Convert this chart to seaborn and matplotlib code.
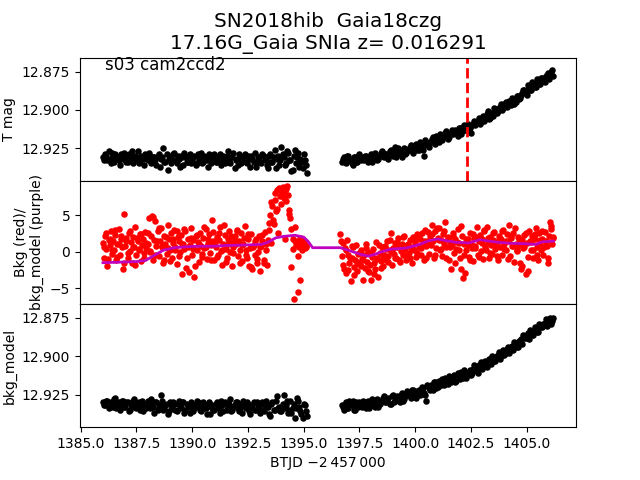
import numpy as np
import pandas as pd
import seaborn as sns
import matplotlib
matplotlib.use("Agg")
import matplotlib.pyplot as plt

# observation grid (BTJD - 2457000): segment starts and cadence, days
cadence = 0.1
orbit1_start = 1386.0
orbit2_start = 1396.7
peak_time = 1402.34

# T mag, orbit 1 / orbit 2 (two interleaved sample sets, offset by half a cadence)
tmag_orbit1 = [
    12.931, 12.929, 12.933, 12.932, 12.928, 12.934, 12.930, 12.933, 12.929, 12.932,
    12.931, 12.934, 12.930, 12.927, 12.933, 12.931, 12.935, 12.930, 12.932, 12.929,
    12.933, 12.930, 12.934, 12.931, 12.936, 12.929, 12.932, 12.925, 12.934, 12.939,
    12.931, 12.933, 12.928, 12.935, 12.932, 12.930, 12.936, 12.931, 12.934, 12.929,
    12.933, 12.930, 12.935, 12.932, 12.928, 12.934, 12.931, 12.937, 12.930, 12.933,
    12.929, 12.934, 12.932, 12.936, 12.930, 12.933, 12.927, 12.935, 12.931, 12.938,
    12.932, 12.929, 12.935, 12.931, 12.934, 12.930, 12.937, 12.932, 12.928, 12.934,
    12.931, 12.935, 12.930, 12.933, 12.938, 12.929, 12.934, 12.926, 12.932, 12.936,
    12.924, 12.931, 12.935, 12.928, 12.933, 12.939, 12.926, 12.931, 12.937, 12.934,
    12.929, 12.936,
]
tmag_orbit1_b = [
    12.933, 12.930, 12.927, 12.935, 12.931, 12.929, 12.932, 12.936, 12.930, 12.928,
    12.934, 12.929, 12.932, 12.935, 12.930, 12.927, 12.933, 12.931, 12.936, 12.930,
    12.928, 12.935, 12.931, 12.933, 12.930, 12.937, 12.931, 12.934, 12.929, 12.932,
    12.935, 12.929, 12.933, 12.930, 12.937, 12.931, 12.928, 12.934, 12.930, 12.935,
    12.931, 12.936, 12.929, 12.933, 12.935, 12.930, 12.933, 12.929, 12.935, 12.931,
    12.934, 12.931, 12.929, 12.933, 12.935, 12.930, 12.934, 12.931, 12.928, 12.933,
    12.936, 12.930, 12.933, 12.929, 12.935, 12.932, 12.930, 12.934, 12.937, 12.931,
    12.934, 12.929, 12.932, 12.936, 12.930, 12.934, 12.931, 12.938, 12.930, 12.933,
    12.929, 12.936, 12.927, 12.933, 12.940, 12.930, 12.935, 12.928, 12.932, 12.938,
    12.933, 12.941,
]
tmag_orbit2 = [
    12.934, 12.931, 12.935, 12.930, 12.933, 12.936, 12.931, 12.934, 12.929, 12.932,
    12.933, 12.930, 12.934, 12.929, 12.932, 12.928, 12.933, 12.930, 12.927, 12.931,
    12.929, 12.932, 12.926, 12.930, 12.924, 12.929, 12.927, 12.931, 12.925, 12.928,
    12.926, 12.923, 12.928, 12.924, 12.926, 12.921, 12.925, 12.930, 12.922, 12.924,
    12.921, 12.918, 12.922, 12.919, 12.916, 12.920, 12.917, 12.914, 12.918, 12.915,
    12.916, 12.913, 12.917, 12.912, 12.914, 12.910, 12.913, 12.911, 12.915, 12.909,
    12.910, 12.907, 12.909, 12.905, 12.907, 12.903, 12.906, 12.902, 12.904, 12.900,
    12.901, 12.898, 12.900, 12.896, 12.898, 12.894, 12.897, 12.893, 12.895, 12.891,
    12.892, 12.889, 12.887, 12.890, 12.885, 12.887, 12.883, 12.885, 12.881, 12.883,
    12.879, 12.882, 12.877, 12.880, 12.875, 12.878,
]
tmag_orbit2_b = [
    12.932, 12.934, 12.930, 12.933, 12.935, 12.931, 12.934, 12.930, 12.933, 12.931,
    12.930, 12.933, 12.931, 12.934, 12.929, 12.931, 12.932, 12.928, 12.930, 12.929,
    12.931, 12.927, 12.929, 12.926, 12.931, 12.925, 12.928, 12.926, 12.929, 12.926,
    12.924, 12.927, 12.925, 12.922, 12.926, 12.923, 12.926, 12.920, 12.923, 12.921,
    12.919, 12.920, 12.917, 12.921, 12.918, 12.917, 12.915, 12.919, 12.916, 12.913,
    12.914, 12.915, 12.912, 12.916, 12.911, 12.913, 12.909, 12.912, 12.910, 12.907,
    12.908, 12.905, 12.908, 12.904, 12.906, 12.901, 12.905, 12.903, 12.899, 12.902,
    12.899, 12.896, 12.899, 12.895, 12.897, 12.895, 12.892, 12.896, 12.891, 12.893,
    12.890, 12.887, 12.889, 12.884, 12.887, 12.882, 12.885, 12.880, 12.883, 12.879,
    12.880, 12.878, 12.876, 12.878, 12.874,
]

# background flux (red points), four interleaved sample sets per orbit
bkg_orbit1 = [
    1.2, -0.8, 2.1, 0.4, -1.9, 1.6, 0.9, 2.8, -0.3, 1.4,
    0.2, 2.3, -1.2, 1.0, 3.1, -0.5, 1.7, 0.6, -2.4, 5.1,
    0.8, 1.9, -0.9, 2.6, 0.1, 1.3, -1.6, 2.0, 0.7, 3.4,
    -0.4, 1.5, 0.3, 2.4, -1.3, 0.9, 1.8, -0.2, 2.7, 0.5,
    1.1, 4.6, 0.0, 2.2, 4.9, -1.1, 1.6, 4.2, 0.8, 2.9,
    -0.6, 1.4, 3.3, 0.6, -1.5, 2.1, 1.0, -0.3, 3.6, 1.7,
    0.3, 2.5, -0.8, 1.2, 3.0, 0.7, -1.7, 2.0, 1.5, -0.1,
    2.3, -3.1, 1.0, 0.4, 2.8, -0.9, 1.8, -2.8, 0.9, 3.2,
    -0.5, 1.6, -3.5, 2.1, 0.2, 1.3, -1.4, 2.6, 0.8, -0.7,
    1.9, 0.5, 3.1, -1.0, 1.2, 2.4, -0.2, 0.9, 4.4, 1.5,
    -1.2, 0.7, 2.0, -0.4, 1.6, 3.4, 0.1, -1.8, 1.1, 2.3,
    0.4, -0.9, 1.8, 2.9, -0.1, 1.3, -2.0, 0.6, 2.2, 1.0,
    3.0, -0.6, 1.5, 0.3, 2.6, -1.3, 1.1, 3.5, 0.2, -0.8,
    1.7, -1.9, 0.5, 2.4, -2.3, 0.9, -0.4, 1.8, -1.6, 0.0,
    2.1, -2.6, 0.8, 1.4, -1.1, 2.7, 0.3, -1.8, 1.6, 3.9,
    5.0, 1.2, 6.2, 3.8, 7.1, 5.6, 8.4, 2.6, 8.7, 7.6,
    6.5, 8.9, 7.4, 1.8, 8.6, 9.0, 7.7, 5.7, 4.6, -2.1,
    1.8, -6.4, 3.4, 0.9, 1.3, -5.5, 0.6, -3.9, 1.1, 0.9,
    1.4, 0.5, 0.8,
]
bkg_orbit1_b = [
    0.6, 2.5, -1.0, 1.8, 0.3, 3.0, -0.7, 1.1, 2.2, -1.5,
    1.4, -0.2, 2.9, 0.7, -1.8, 1.9, 0.4, 2.4, -0.9, 1.2,
    2.6, 0.1, 4.7, -0.5, 1.5, 3.2, 0.8, -1.2, 2.0, 0.5,
    -1.3, 1.7, 0.2, 2.9, -0.6, 1.1, 3.1, -2.2, 0.7, 1.9,
    0.4, -1.9, 2.3, 1.0, -0.3, 3.4, 0.6, 1.8, -1.1, 2.7,
    1.3, -0.7, 2.5, 0.2, 3.7, -1.4, 1.0, 2.1, -0.2, 1.6,
    2.8, -1.6, 0.9, 1.9, -0.5, 2.4, -2.1, 0.6, 1.4, -1.0,
    0.7, 2.3, -1.5, 1.1, 3.0, 6.8, 4.3, 8.0, 5.9, 8.5,
    7.9, 8.2, 6.9, 5.2, 3.1, 0.4, 1.5, -0.6, 1.9, 0.3,
    1.2, 0.7,
]
bkg_orbit2 = [
    2.4, -0.6, 1.2, -2.3, 0.5, -2.9, 1.6, -0.4, -1.5, -4.0,
    -0.8, 0.6, -2.1, -1.2, 0.9, -2.6, -0.3, -1.7, 0.2, -1.0,
    -3.9, -0.5, -2.2, 1.0, -1.4, -0.1, -2.8, -3.8, -0.7, 0.4,
    -1.6, -2.4, 1.3, -0.9, -3.4, -0.2, -1.3, 0.7, -2.0, -0.4,
    0.8, -1.1, 1.5, -0.6, 0.3, 2.5, -1.8, 0.5, -0.3, 1.2,
    -0.9, 0.6, 1.9, -1.4, 0.1, 1.1, -0.5, 2.2, 0.4, -1.2,
    0.9, -0.2, 1.6, 0.5, -1.6, 2.0, 0.2, 1.3, -0.7, 2.4,
    0.6, 1.8, -0.4, 2.6, 1.1, -1.2, 3.0, 0.8, 1.5, -0.3,
    2.1, 0.9, 3.7, 1.4, -0.8, 2.8, 0.5, 1.9, 3.2, 0.2,
    1.6, -0.6, 2.4, 1.0, 4.0, 0.7, 2.0, -1.1, 1.3, -2.3,
    0.9, 2.5, -0.2, 1.7, 0.4, 3.1, 1.2, -0.9, -2.3, 2.2,
    -3.6, 1.0, -2.9, 0.3, 1.8, -0.7, 2.6, 1.1, 0.5, -1.3,
    1.9, 0.8, 3.4, -0.5, 1.4, 2.3, 0.1, 1.7, -1.0, 2.8,
    0.6, 3.4, 1.2, -0.8, 2.0, 0.9, -0.3, 1.6, 2.7, 0.4,
    1.3, -1.2, 2.2, 0.7, 1.8, -0.4, 3.0, 1.0, 0.3, 2.4,
    1.5, 3.7, -0.6, 1.9, 0.8, 2.6, -1.4, 1.1, 0.2, 2.0,
    0.9, -1.5, -2.3, 1.6, 0.5, 2.3, -3.0, 1.2, -0.7, 2.9,
    1.4, 0.3, 2.1, -0.9, 1.7, 3.3, 0.6, -1.1, 2.5, 1.0,
    0.2, 1.8, -0.5, 2.7, 1.3, 0.8, -1.6, 2.2, 4.0, 3.5,
    1.1, 2.0,
]
bkg_orbit2_b = [
    1.5, -1.8, 0.3, -2.5, -0.9, 0.8, -3.2, -1.4, -0.2, -2.0,
    -1.1, 0.5, -2.7, -1.8, -0.3, -3.1, -1.0, 0.9, -2.2, -0.6,
    0.4, -1.4, 1.6, 0.0, -0.8, 1.3, -1.1, 0.7, 2.0, -0.4,
    1.1, -0.9, 0.6, 1.9, -0.2, 2.3, 0.5, 1.4, -0.8, 2.7,
    1.0, 2.4, -0.5, 3.3, 1.6, 0.4, 2.9, -0.9, 1.8, 0.6,
    2.2, -1.6, 1.3, 0.2, 3.5, -0.4, 1.7, 0.9, -1.2, 2.4,
    0.5, 2.0, -0.7, 1.2, 3.0, 0.3, 1.9, -0.2, 2.5, 1.1,
    -0.6, 1.7, 2.8, 0.4, 1.4, -1.0, 2.2, 0.8, 3.2, 0.1,
    1.8, -1.9, 0.6, 2.6, -2.6, 1.3, 0.2, 2.4, -0.4, 1.6,
    2.9, 0.7, 1.5, -0.8, 3.1, 1.9,
]

# smoothed background model (purple line)
model_time = [
    1386.0, 1386.5, 1387.0, 1387.5, 1387.9, 1388.3, 1388.7, 1389.2, 1389.6, 1390.2,
    1390.9, 1391.5, 1392.1, 1392.7, 1393.1, 1393.4, 1393.75, 1394.1, 1394.6, 1395.0,
    1395.2, 1395.4, 1396.0, 1396.65, 1396.9, 1397.3, 1397.6, 1397.9, 1398.2, 1398.5,
    1398.9, 1399.6, 1400.2, 1400.6, 1401.0, 1401.4, 1401.8, 1402.4, 1402.9, 1403.3,
    1403.7, 1404.3, 1404.9, 1405.4, 1405.7, 1406.2,
]
model_bkg = [
    -1.5, -1.45, -1.4, -1.35, -1.2, -0.5, 0.2, 0.55, 0.65, 0.75,
    0.75, 0.85, 0.9, 0.95, 1.0, 1.3, 1.9, 2.1, 2.25, 2.0,
    1.4, 0.55, 0.55, 0.55, 0.3, -0.1, -0.4, -0.6, -0.35, 0.0,
    0.35, 0.5, 1.0, 1.5, 1.75, 1.5, 1.3, 1.2, 1.65, 1.45,
    1.3, 1.15, 1.1, 1.0, 1.35, 1.45,
]

# T mag after bkg_model correction
corr_orbit1 = [
    12.930, 12.932, 12.929, 12.933, 12.931, 12.928, 12.934, 12.930, 12.932, 12.929,
    12.933, 12.930, 12.935, 12.931, 12.928, 12.934, 12.930, 12.932, 12.936, 12.931,
    12.929, 12.934, 12.931, 12.937, 12.930, 12.933, 12.925, 12.935, 12.932, 12.938,
    12.930, 12.934, 12.931, 12.936, 12.929, 12.933, 12.930, 12.935, 12.932, 12.937,
    12.931, 12.934, 12.929, 12.933, 12.936, 12.930, 12.934, 12.931, 12.938, 12.932,
    12.935, 12.930, 12.933, 12.929, 12.936, 12.931, 12.934, 12.928, 12.935, 12.932,
    12.930, 12.936, 12.933, 12.929, 12.934, 12.931, 12.938, 12.932, 12.935, 12.930,
    12.934, 12.931, 12.936, 12.929, 12.933, 12.939, 12.930, 12.935, 12.926, 12.933,
    12.936, 12.925, 12.932, 12.937, 12.929, 12.934, 12.940, 12.927, 12.933, 12.938,
    12.931, 12.936,
]
corr_orbit1_b = [
    12.932, 12.929, 12.934, 12.930, 12.933, 12.927, 12.931, 12.935, 12.929, 12.933,
    12.930, 12.936, 12.932, 12.929, 12.933, 12.931, 12.935, 12.929, 12.932, 12.934,
    12.931, 12.928, 12.933, 12.930, 12.935, 12.932, 12.929, 12.934, 12.931, 12.936,
    12.932, 12.930, 12.935, 12.931, 12.934, 12.930, 12.937, 12.931, 12.933, 12.930,
    12.936, 12.932, 12.930, 12.935, 12.931, 12.934, 12.938, 12.930, 12.933, 12.935,
    12.931, 12.934, 12.937, 12.932, 12.930, 12.935, 12.931, 12.936, 12.933, 12.930,
    12.934, 12.931, 12.937, 12.932, 12.930, 12.936, 12.933, 12.930, 12.935, 12.932,
    12.937, 12.930, 12.934, 12.932, 12.938, 12.931, 12.935, 12.929, 12.934, 12.936,
    12.931, 12.934, 12.929, 12.935, 12.937, 12.931, 12.934, 12.929, 12.936, 12.940,
    12.932, 12.939,
]
corr_orbit2 = [
    12.932, 12.935, 12.930, 12.934, 12.931, 12.929, 12.935, 12.932, 12.930, 12.933,
    12.931, 12.934, 12.929, 12.932, 12.930, 12.933, 12.928, 12.931, 12.929, 12.926,
    12.930, 12.927, 12.931, 12.925, 12.929, 12.926, 12.930, 12.924, 12.928, 12.925,
    12.924, 12.927, 12.922, 12.926, 12.923, 12.925, 12.920, 12.924, 12.929, 12.921,
    12.919, 12.922, 12.917, 12.920, 12.918, 12.915, 12.919, 12.916, 12.913, 12.917,
    12.914, 12.917, 12.911, 12.915, 12.912, 12.909, 12.914, 12.910, 12.912, 12.908,
    12.908, 12.911, 12.906, 12.908, 12.904, 12.907, 12.902, 12.905, 12.901, 12.903,
    12.899, 12.902, 12.897, 12.899, 12.895, 12.898, 12.894, 12.896, 12.892, 12.894,
    12.890, 12.892, 12.888, 12.886, 12.889, 12.884, 12.886, 12.882, 12.884, 12.880,
    12.881, 12.878, 12.880, 12.876, 12.879, 12.875,
]
corr_orbit2_b = [
    12.933, 12.931, 12.934, 12.929, 12.932, 12.935, 12.930, 12.933, 12.931, 12.929,
    12.932, 12.930, 12.934, 12.928, 12.931, 12.929, 12.933, 12.929, 12.927, 12.930,
    12.928, 12.931, 12.926, 12.930, 12.927, 12.928, 12.925, 12.929, 12.926, 12.923,
    12.926, 12.922, 12.925, 12.927, 12.922, 12.924, 12.921, 12.925, 12.919, 12.922,
    12.920, 12.917, 12.921, 12.916, 12.919, 12.917, 12.914, 12.918, 12.915, 12.916,
    12.912, 12.916, 12.913, 12.910, 12.914, 12.911, 12.912, 12.909, 12.911, 12.906,
    12.909, 12.906, 12.904, 12.907, 12.903, 12.905, 12.902, 12.900, 12.903, 12.900,
    12.897, 12.900, 12.896, 12.898, 12.894, 12.896, 12.893, 12.891, 12.894, 12.890,
    12.889, 12.886, 12.888, 12.885, 12.883, 12.886, 12.881, 12.884, 12.879, 12.881,
    12.879, 12.876, 12.878, 12.875, 12.877,
]


def sample_times(start, step, values):
    return np.round(start + step * np.arange(len(values)), 3)


t_phot = np.concatenate([
    sample_times(orbit1_start, cadence, tmag_orbit1),
    sample_times(orbit1_start + cadence / 2, cadence, tmag_orbit1_b),
    sample_times(orbit2_start, cadence, tmag_orbit2),
    sample_times(orbit2_start + cadence / 2, cadence, tmag_orbit2_b),
])
phot = pd.DataFrame({
    "t": t_phot,
    "mag": tmag_orbit1 + tmag_orbit1_b + tmag_orbit2 + tmag_orbit2_b,
    "corr": corr_orbit1 + corr_orbit1_b + corr_orbit2 + corr_orbit2_b,
})

t_bkg = np.concatenate([
    sample_times(orbit1_start, cadence / 2, bkg_orbit1),
    sample_times(orbit1_start + cadence / 4, cadence, bkg_orbit1_b),
    sample_times(orbit2_start - cadence / 2, cadence / 2, bkg_orbit2),
    sample_times(orbit2_start - cadence / 4, cadence, bkg_orbit2_b),
])
bkg = pd.DataFrame({"t": t_bkg,
                    "bkg": bkg_orbit1 + bkg_orbit1_b + bkg_orbit2 + bkg_orbit2_b})
model = pd.DataFrame({"t": model_time, "bkg": model_bkg})

fig, (ax1, ax2, ax3) = plt.subplots(3, 1, sharex=True, figsize=(6.4, 4.8), dpi=100)
fig.subplots_adjust(hspace=0)

dot = dict(s=22, linewidth=0)

sns.scatterplot(data=phot, x="t", y="mag", color="k", ax=ax1, **dot)
ax1.axvline(peak_time, color="r", ls="--", lw=2)
ax1.set_ylim(12.9463, 12.8659)
ax1.set_xlabel("")
ax1.set_ylabel("T mag")
ax1.text(0.05, 0.9, "s03 cam2ccd2", transform=ax1.transAxes, fontsize=12)
ax1.set_title("SN2018hib  Gaia18czg\n17.16G_Gaia SNIa z= 0.016291", fontsize=14.4)

sns.scatterplot(data=bkg, x="t", y="bkg", color="r", ax=ax2, **dot)
sns.lineplot(data=model, x="t", y="bkg", color="m", lw=2, errorbar=None, ax=ax2)
ax2.set_ylim(-7.15, 9.7)
ax2.set_xlabel("")
ax2.set_ylabel("Bkg (red)/\nbkg_model (purple)")

sns.scatterplot(data=phot, x="t", y="corr", color="k", ax=ax3, **dot)
ax3.set_ylim(12.9463, 12.8659)
ax3.set_xlim(1384.97, 1407.21)
ax3.set_ylabel("bkg_model")
ax3.set_xlabel("BTJD \u22122\u2009457\u2009000")

fig.savefig("out.png", dpi=100)
